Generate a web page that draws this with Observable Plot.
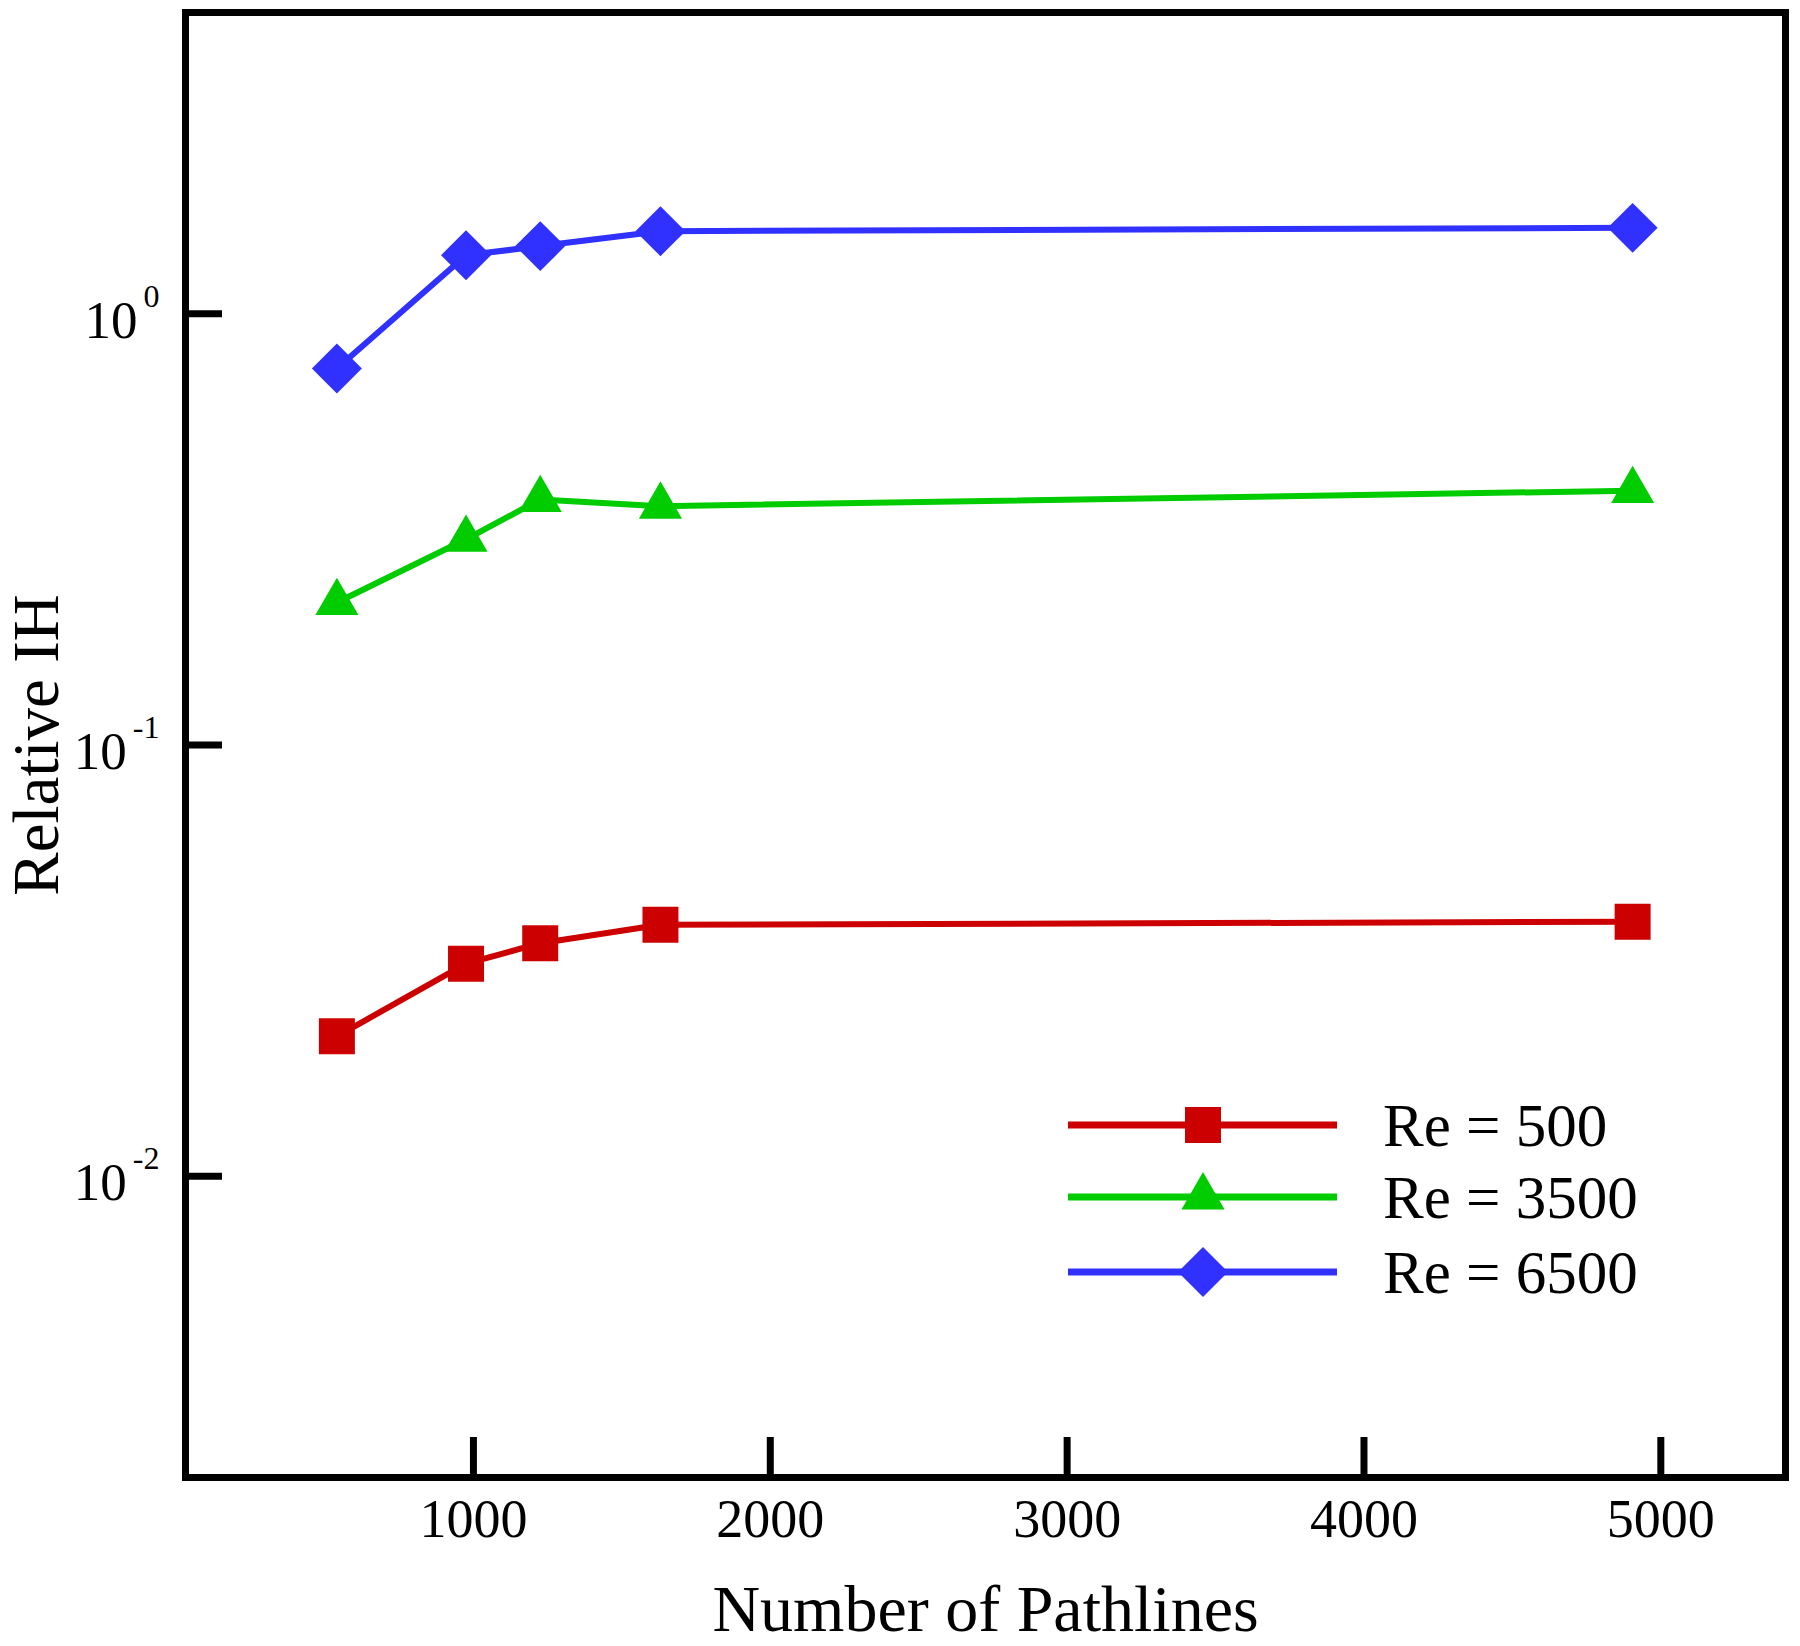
<!DOCTYPE html>
<html><head><meta charset="utf-8">
<script src="https://cdn.jsdelivr.net/npm/d3@7"></script>
<script src="https://cdn.jsdelivr.net/npm/@observablehq/plot@0.6"></script>
<style>html,body{margin:0;padding:0;background:#fff;} svg{display:block;}</style>
</head><body>
<script>
// ---- data ----
const pathlines = [540, 975, 1225, 1630, 4905];
const re500  = [0.0211, 0.0311, 0.0347, 0.0383, 0.0389];
const re3500 = [0.214, 0.300, 0.371, 0.358, 0.389];
const re6500 = [0.747, 1.367, 1.436, 1.555, 1.583];
const seriesNames = ["Re = 500", "Re = 3500", "Re = 6500"];
const seriesValues = [re500, re3500, re6500];
const xTicks = [1000, 2000, 3000, 4000, 5000];
const yTicks = [0.01, 0.1, 1];
const xLabel = "Number of Pathlines";
const yLabel = "Relative IH";

// ---- styles ----
const colors = ["#cc0000", "#00cc00", "#3030ff"];
const symbols = ["square", "triangle", "diamond2"];
const d3Symbols = [d3.symbolSquare, d3.symbolTriangle, d3.symbolDiamond2];
const radii = [20.3, 16, 22.5];
const font = "'Liberation Serif', 'Times New Roman', Times, serif";

const W = 1800, H = 1646;
const mL = 185, mR = 15, mT = 12, mB = 169;

const marks = [];
seriesValues.forEach((vals, i) => {
  const rows = pathlines.map((x, j) => ({x, y: vals[j]}));
  marks.push(Plot.line(rows, {x: "x", y: "y", stroke: colors[i], strokeWidth: 6}));
  marks.push(Plot.dot(rows, {x: "x", y: "y", symbol: symbols[i], fill: colors[i], r: radii[i]}));
});

function legendMark() {
  const g = d3.create("svg:g");
  const rowY = [1125, 1197, 1272];
  seriesNames.forEach((name, i) => {
    const y = rowY[i];
    g.append("line").attr("x1", 1068).attr("x2", 1337).attr("y1", y).attr("y2", y)
      .attr("stroke", colors[i]).attr("stroke-width", 7);
    g.append("path").attr("transform", `translate(1203,${y})`)
      .attr("d", d3.symbol(d3Symbols[i], Math.PI * radii[i] * radii[i])())
      .attr("fill", colors[i]);
    g.append("text").attr("x", 1383).attr("y", y).attr("dy", "0.34em")
      .attr("text-anchor", "start")
      .attr("font-size", 61).attr("fill", "black").text(name);
  });
  return g.node();
}

const chart = Plot.plot({
  width: W, height: H,
  marginLeft: mL, marginRight: mR, marginTop: mT, marginBottom: mB,
  style: {fontFamily: font, background: "white", color: "black", fontSize: "54px"},
  x: {type: "linear", domain: [30, 5420]},
  y: {type: "log", domain: [0.002, 5]},
  marks: [
    ...marks,
    Plot.tickX(xTicks, {x: d => d, stroke: "black", strokeWidth: 7, insetTop: (H - mT - mB) - 40}),
    Plot.tickY(yTicks, {y: d => d, stroke: "black", strokeWidth: 7, insetRight: (W - mL - mR) - 37}),
    Plot.axisX({ticks: xTicks, tickSize: 0, tickPadding: 21, fontSize: 54, label: null, tickFormat: d => String(d)}),
    Plot.axisY({ticks: yTicks, tickSize: 0, tickPadding: 26, fontSize: 53, label: null, dy: 7,
      tickFormat: d => "10^" + Math.round(Math.log10(d))}),
    Plot.text([xLabel], {text: d => d, frameAnchor: "bottom", textAnchor: "middle", dy: 153, lineAnchor: "bottom", fontSize: 66}),
    Plot.text([yLabel], {text: d => d, frameAnchor: "left", textAnchor: "middle", rotate: -90, dx: -128, lineAnchor: "bottom", fontSize: 65}),
    Plot.frame({stroke: "black", strokeWidth: 7}),
    legendMark
  ]
});

// superscript exponents on the y tick labels
d3.select(chart).selectAll('g[aria-label="y-axis tick label"] text').each(function() {
  const t = this.textContent;
  const parts = t.split("^");
  if (parts.length === 2) {
    const sel = d3.select(this);
    sel.text(parts[0]);
    sel.append("tspan").attr("dx", 6).attr("dy", -31).attr("font-size", 32).text(parts[1]);
  }
});

document.body.appendChild(chart);
</script>
</body></html>
